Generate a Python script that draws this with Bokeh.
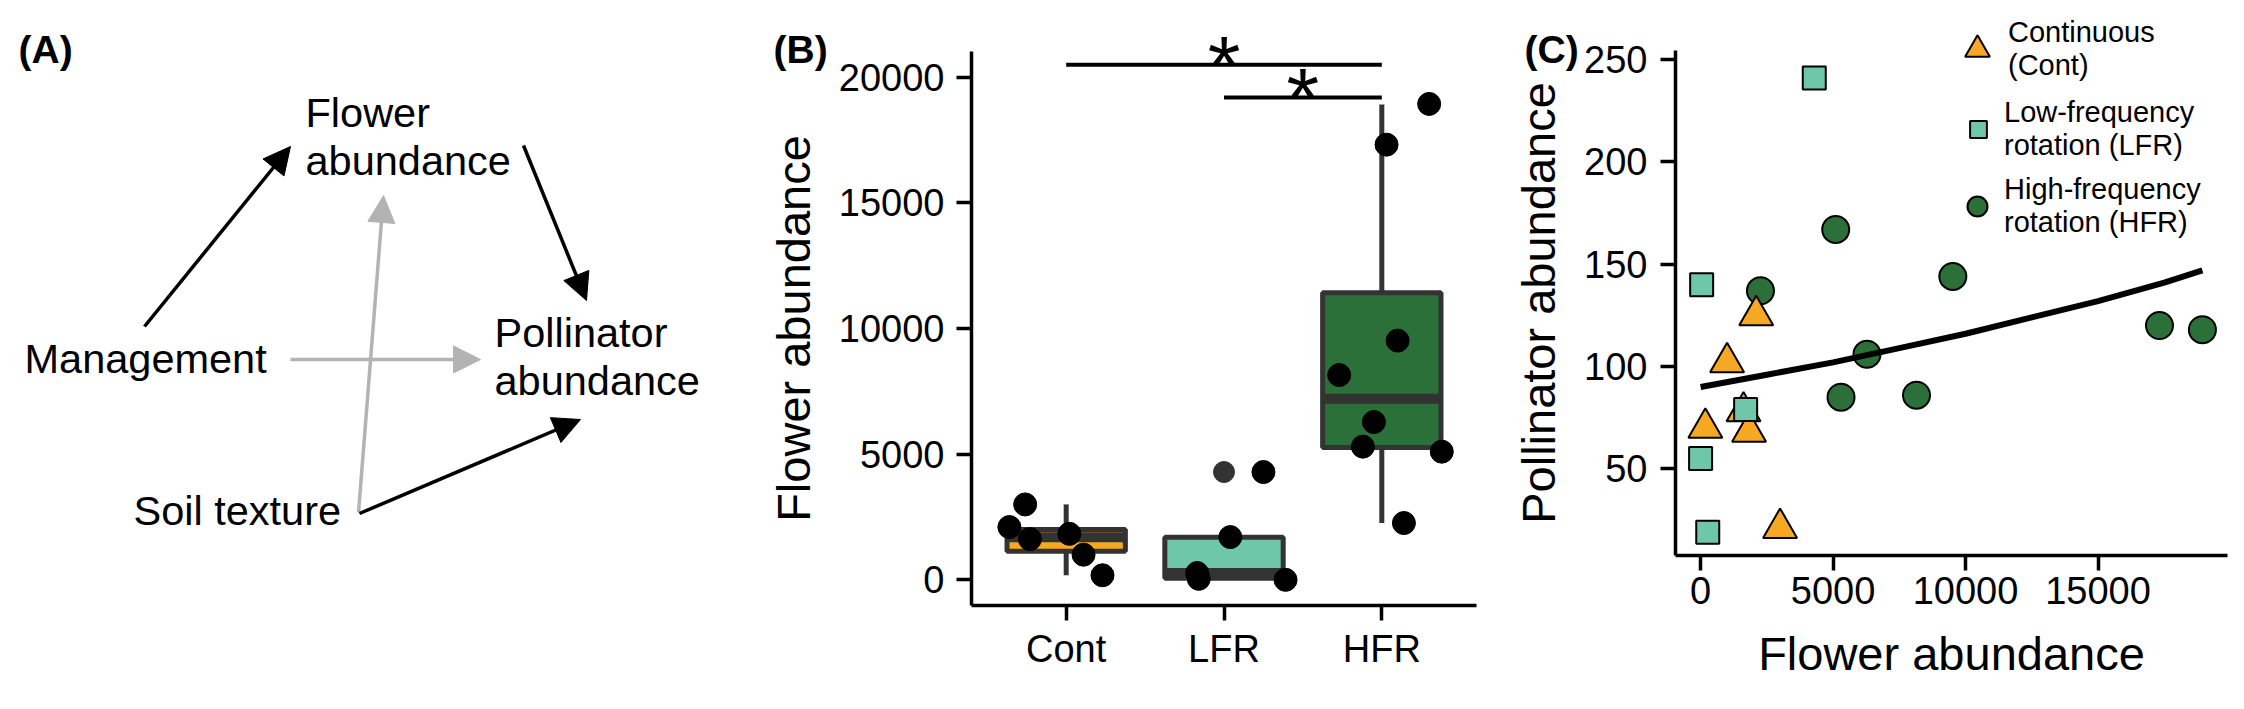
from bokeh.plotting import figure
from bokeh.layouts import row
from bokeh.models import (Range1d, FixedTicker, Label, LabelSet, Arrow, NormalHead,
                          ColumnDataSource, Legend, LegendItem)
from bokeh.core.properties import value
from bokeh.embed import file_html
from bokeh.resources import INLINE

FONT = "Liberation Sans"

# Data
# ----
groups = ["Cont", "LFR", "HFR"]
group_names = ["Continuous\n(Cont)", "Low-frequency\nrotation (LFR)", "High-frequency\nrotation (HFR)"]
group_colors = ["#F7A823", "#6FC7AA", "#2C7039"]

flower_cont = [180, 1000, 1620, 1830, 2100, 3000]
flower_lfr = [0, 40, 270, 1700, 4290]
flower_hfr = [2260, 5100, 5300, 6280, 8150, 9520, 17320, 18940]

pollinator_cont = [70, 102, 78, 68, 125, 21]
pollinator_lfr = [55, 140, 19, 79, 241]
pollinator_hfr = [137, 167, 85, 106, 86, 144, 120, 118]

# horizontal jitter of the points in (B), in category widths
jitter_cont = [0.23, 0.11, -0.23, 0.02, -0.36, -0.26]
jitter_lfr = [0.39, -0.16, -0.17, 0.04, 0.25]
jitter_hfr = [0.14, 0.38, -0.12, -0.05, -0.27, 0.10, 0.03, 0.30]

# boxplot statistics (Cont, LFR, HFR)
box_q1 = [1140, 60, 5270]
box_median = [1690, 270, 7210]
box_q3 = [2000, 1690, 11420]
whisker_low = [180, 0, 2260]
whisker_high = [3000, 1690, 18920]
outlier_group = ["LFR"]
outlier_value = [4290]

# significance brackets
sig_pairs = [("Cont", "HFR"), ("LFR", "HFR")]
sig_heights = [20500, 19200]
sig_labels = ["*", "*"]

# fitted curve in (C)
fit_flower = [0, 2500, 5000, 7500, 10000, 12500, 15000, 17500, 18940]
fit_pollinator = [90, 96, 102, 109, 116, 124, 132, 141, 147]

# path diagram (A)
node_lines = {
    "flower": ["Flower", "abundance"],
    "management": ["Management"],
    "pollinator": ["Pollinator", "abundance"],
    "soil": ["Soil texture"],
}
edges = [
    ("management", "flower", "black"),
    ("flower", "pollinator", "black"),
    ("management", "pollinator", "#B3B3B3"),
    ("soil", "flower", "#B3B3B3"),
    ("soil", "pollinator", "black"),
]

# Layout (page pixels)
# --------------------
node_anchor = {"flower": (305, 126), "management": (24, 372),
               "pollinator": (494, 346), "soil": (133, 524)}
edge_ends = {
    ("management", "flower"): ((144, 326), (290, 146)),
    ("flower", "pollinator"): ((523, 145), (586, 300)),
    ("management", "pollinator"): ((290, 359), (480, 359)),
    ("soil", "flower"): ((358, 512), (383, 195)),
    ("soil", "pollinator"): ((359, 513), (580, 419)),
}
LINE_H = 48
TOP, BOTTOM = 0, 707            # every figure spans the full page height
A_SPAN = (0, 748)
B_SPAN = (748, 1478)
C_SPAN = (1478, 2242)
B_AXES = (971, 1476, 51, 605)   # left, right, top, bottom of the axes box
C_AXES = (1675, 2227, 50, 555)
TAG_BASELINE = 49


def lin(v0, v1, p0, p1, q):
    return v0 + (q - p0) / (p1 - p0) * (v1 - v0)


def full_ranges(span, axes, xlim, ylim):
    """Ranges for a figure whose frame is the whole figure, so that xlim/ylim fall on the axes box."""
    left, right, top, bottom = axes
    xr = Range1d(lin(xlim[0], xlim[1], left, right, span[0]), lin(xlim[0], xlim[1], left, right, span[1]))
    yr = Range1d(lin(ylim[0], ylim[1], bottom, top, BOTTOM), lin(ylim[0], ylim[1], bottom, top, TOP))
    return xr, yr


def page_to_data(px, py, axes, xlim, ylim):
    left, right, top, bottom = axes
    return lin(xlim[0], xlim[1], left, right, px), lin(ylim[0], ylim[1], bottom, top, py)


def style_axes(p, xlim, ylim):
    # axes pinned to the edges of the axes box, so nothing outside it gets clipped
    p.xaxis.fixed_location = ylim[0]
    p.yaxis.fixed_location = xlim[0]
    p.xaxis.bounds = xlim
    p.yaxis.bounds = ylim
    for ax in p.axis:
        ax.axis_line_width = 3.5
        ax.axis_line_color = "black"
        ax.major_tick_line_width = 3.5
        ax.major_tick_line_color = "black"
        ax.major_tick_out = 15
        ax.major_tick_in = 0
        ax.minor_tick_line_color = None
        ax.major_label_text_font = FONT
        ax.major_label_text_font_size = "38px"
        ax.major_label_text_color = "black"
        ax.axis_label_text_font = FONT
        ax.axis_label_text_font_size = "47px"
        ax.axis_label_text_font_style = "normal"
        ax.axis_label_text_color = "black"
    p.grid.visible = False
    p.outline_line_color = None


def panel_tag(p, text, px, axes, xlim, ylim):
    x, y = page_to_data(px, TAG_BASELINE, axes, xlim, ylim)
    p.add_layout(Label(x=x, y=y, text=text, text_font=FONT, text_font_size="39px",
                       text_font_style="bold", text_baseline="alphabetic", text_color="black"))


# (A) path diagram
# ----------------
pA = figure(width=A_SPAN[1] - A_SPAN[0], height=BOTTOM - TOP,
            x_range=Range1d(*A_SPAN), y_range=Range1d(BOTTOM, TOP),
            x_axis_type=None, y_axis_type=None, min_border=0,
            output_backend="svg", toolbar_location=None)
pA.grid.visible = False
pA.outline_line_color = None

tx, ty, tt = [], [], []
for key, lines in node_lines.items():
    ax_, ay_ = node_anchor[key]
    for i, line in enumerate(lines):
        tx.append(ax_)
        ty.append(ay_ + i * LINE_H)
        tt.append(line)
node_src = ColumnDataSource(data={"x": tx, "y": ty, "t": tt})
pA.add_layout(LabelSet(x="x", y="y", text="t", source=node_src,
                       text_font=value(FONT), text_font_size="41.5px",
                       text_align="left", text_baseline="alphabetic", text_color="black"))

for start, end, color in edges:
    (x0, y0), (x1, y1) = edge_ends[(start, end)]
    pA.add_layout(Arrow(x_start=x0, y_start=y0, x_end=x1, y_end=y1,
                        line_color=color, line_width=3.5,
                        end=NormalHead(size=27, fill_color=color, line_color=color)))

pA.add_layout(Label(x=18, y=TAG_BASELINE, text="(A)", text_font=FONT, text_font_size="39px",
                    text_font_style="bold", text_baseline="alphabetic", text_color="black"))

# (B) boxplot of flower abundance
# -------------------------------
bx = (0.4, 3.6)
by = (-1023, 21027)
bxr, byr = full_ranges(B_SPAN, B_AXES, bx, by)
pB = figure(width=B_SPAN[1] - B_SPAN[0], height=BOTTOM - TOP, x_range=bxr, y_range=byr,
            min_border=0, output_backend="svg", toolbar_location=None)
style_axes(pB, bx, by)
pos = {g: i + 1 for i, g in enumerate(groups)}
centers = [pos[g] for g in groups]

pB.xaxis.ticker = FixedTicker(ticks=centers)
pB.xaxis.major_label_overrides = {pos[g]: g for g in groups}
pB.xaxis.major_label_standoff = 7
pB.yaxis.ticker = FixedTicker(ticks=[0, 5000, 10000, 15000, 20000])
pB.yaxis.major_label_standoff = 12
pB.yaxis.axis_label = "Flower abundance"
pB.yaxis.axis_label_standoff = 16

pB.segment(x0=centers, y0=whisker_low, x1=centers, y1=box_q1, line_width=5, line_color="#333333")
pB.segment(x0=centers, y0=box_q3, x1=centers, y1=whisker_high, line_width=5, line_color="#333333")
pB.vbar(x=centers, width=0.75, bottom=box_q1, top=box_q3, fill_color=group_colors,
        line_color="#333333", line_width=5)
pB.segment(x0=[c - 0.375 for c in centers], y0=box_median, x1=[c + 0.375 for c in centers],
           y1=box_median, line_width=10, line_color="#333333", line_cap="butt")
pB.scatter(x=[pos[g] for g in outlier_group], y=outlier_value, size=21, color="#333333")

for g, vals, jit in [("Cont", flower_cont, jitter_cont), ("LFR", flower_lfr, jitter_lfr),
                     ("HFR", flower_hfr, jitter_hfr)]:
    pB.scatter(x=[pos[g] + j for j in jit], y=vals, size=23, color="black")

pB.segment(x0=[pos[a] for a, b in sig_pairs], x1=[pos[b] for a, b in sig_pairs],
           y0=sig_heights, y1=sig_heights, line_width=4, line_color="black")
star_src = ColumnDataSource(data={
    "x": [(pos[a] + pos[b]) / 2 for a, b in sig_pairs],
    "y": sig_heights,
    "t": sig_labels,
})
pB.add_layout(LabelSet(x="x", y="y", text="t", source=star_src, y_offset=-30,
                       text_font=value(FONT), text_font_size="84px", text_align="center",
                       text_baseline="alphabetic", text_color="black"))
panel_tag(pB, "(B)", 773, B_AXES, bx, by)

# (C) pollinator vs flower abundance
# ----------------------------------
cx = (-947, 19887)
cy = (7.6, 254.5)
cxr, cyr = full_ranges(C_SPAN, C_AXES, cx, cy)
pC = figure(width=C_SPAN[1] - C_SPAN[0], height=BOTTOM - TOP, x_range=cxr, y_range=cyr,
            min_border=0, output_backend="svg", toolbar_location=None)
style_axes(pC, cx, cy)
pC.xaxis.ticker = FixedTicker(ticks=[0, 5000, 10000, 15000])
pC.yaxis.ticker = FixedTicker(ticks=[50, 100, 150, 200, 250])
pC.xaxis.major_label_standoff = 6
pC.yaxis.major_label_standoff = 13
pC.xaxis.axis_label = "Flower abundance"
pC.yaxis.axis_label = "Pollinator abundance"
pC.xaxis.axis_label_standoff = 20
pC.yaxis.axis_label_standoff = 16

r_hfr = pC.scatter(x=flower_hfr, y=pollinator_hfr, marker="circle", size=27,
                   fill_color=group_colors[2], line_color="black", line_width=2)
r_cont = pC.scatter(x=flower_cont, y=pollinator_cont, marker="triangle", size=34,
                    fill_color=group_colors[0], line_color="black", line_width=2)
r_lfr = pC.scatter(x=flower_lfr, y=pollinator_lfr, marker="square", size=23,
                   fill_color=group_colors[1], line_color="black", line_width=2)
pC.line(x=fit_flower, y=fit_pollinator, line_width=6, line_color="black")

# one legend per entry, so each key keeps its own marker size
# (glyph box size, key centre in page px)
legend_specs = [
    (r_cont, group_names[0], 62, (1977, 48)),
    (r_lfr, group_names[1], 42, (1978, 128)),
    (r_hfr, group_names[2], 50, (1977, 205)),
]
LEGEND_TEXT_X = 2004
LEGEND_TEXT_H = 67
for rend, label, g, (kx, ky) in legend_specs:
    h = max(g, LEGEND_TEXT_H)
    loc = (kx - g / 2 - C_SPAN[0], BOTTOM - (ky + h / 2))
    leg = Legend(items=[LegendItem(label=label, renderers=[rend])], location=loc,
                 glyph_width=g, glyph_height=g, label_standoff=int(round(LEGEND_TEXT_X - kx - g / 2)),
                 padding=0, margin=0, spacing=0, border_line_color=None,
                 background_fill_alpha=0, label_text_font=FONT, label_text_color="black",
                 label_text_font_size="29px", label_text_line_height=1.15)
    pC.add_layout(leg)

panel_tag(pC, "(C)", 1524, C_AXES, cx, cy)

layout = row(pA, pB, pC)
open("out.html", "w").write(file_html(layout, INLINE))
